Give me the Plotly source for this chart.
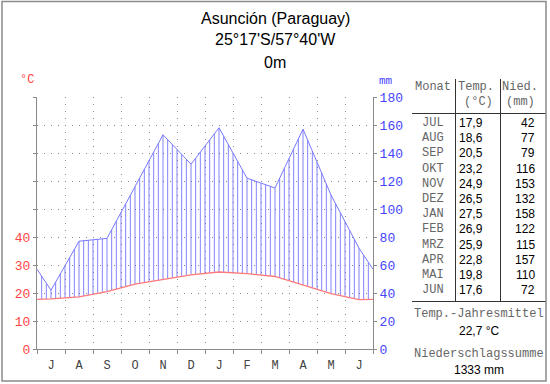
import numpy as np
import plotly.graph_objects as go

# ---- data ----
month_initials = ["J", "A", "S", "O", "N", "D", "J", "F", "M", "A", "M", "J"]
month_names = ["JUL", "AUG", "SEP", "OKT", "NOV", "DEZ", "JAN", "FEB", "MRZ", "APR", "MAI", "JUN"]
temp_c = [17.9, 18.6, 20.5, 23.2, 24.9, 26.5, 27.5, 26.9, 25.9, 22.8, 19.8, 17.6]
temp_labels = ["17,9", "18,6", "20,5", "23,2", "24,9", "26,5", "27,5", "26,9", "25,9", "22,8", "19,8", "17,6"]
precip_mm = [42, 77, 79, 116, 153, 132, 158, 122, 115, 157, 110, 72]
title_lines = ["Asunción (Paraguay)", "25°17'S/57°40'W", "0m"]
temp_ticks = [0, 10, 20, 30, 40, 50, 60, 70, 80, 90]
temp_ticktext = ["0", "10", "20", "30", "40", "", "", "", "", ""]
mm_ticks = [0, 20, 40, 60, 80, 100, 120, 140, 160, 180]
mean_temp_text = "22,7 °C"
total_precip_text = "1333 mm"

# ---- geometry ----
W, H = 550, 384
L, R, T, B = 37, 373, 97, 349
MONO = "Liberation Mono, Courier New, monospace"
SANS = "Liberation Sans, Arial, sans-serif"
GRID = "#8a8a8a"
AX = "#8a8a8a"
RED_LINE = "#ff7a7a"
RED_TXT = "#ff4444"
BLUE_LINE = "#7878ff"
BLUE_TXT = "#4444ff"
HATCH = "rgba(90,90,255,0.75)"


def px(x):
    return (x - L) / (R - L)


def py(y):
    return (B - y) / (B - T)


# curve points at month centres, with wrap-around values at the edges
t = np.array(temp_c)
p = np.array(precip_mm, dtype=float)
xs = np.concatenate([[0.0], np.arange(12) + 0.5, [12.0]])
t_edge = (t[0] + t[-1]) / 2
p_edge = (p[0] + p[-1]) / 2
t_curve = np.concatenate([[t_edge], t, [t_edge]])
p_curve = np.concatenate([[p_edge], p, [p_edge]])

# hatching (vertical lines between temperature and precipitation)
hx, hy = [], []
for k in range(1, 72):
    xv = k / 6.0
    top = np.interp(xv, xs, p_curve)
    bot = 2 * np.interp(xv, xs, t_curve)
    if top > bot:
        hx += [xv, xv, None]
        hy += [bot, top, None]

fig = go.Figure()
fig.add_trace(go.Scatter(x=hx, y=hy, mode="lines", line=dict(color=HATCH, width=1),
                         hoverinfo="skip", showlegend=False, yaxis="y"))
fig.add_trace(go.Scatter(x=xs, y=p_curve, mode="lines", line=dict(color=BLUE_LINE, width=1),
                         showlegend=False, yaxis="y"))
fig.add_trace(go.Scatter(x=xs, y=t_curve, mode="lines", line=dict(color=RED_LINE, width=1.3),
                         showlegend=False, yaxis="y2"))

fig.update_layout(
    width=W, height=H,
    margin=dict(l=L, r=W - R, t=T, b=H - B),
    paper_bgcolor="white", plot_bgcolor="white",
    showlegend=False,
    xaxis=dict(
        range=[0, 12], showline=True, linecolor=AX, linewidth=1,
        tickvals=list(np.arange(12) + 0.5), ticktext=month_initials, ticks="",
        ticklabelstandoff=5,
        tickfont=dict(family=MONO, size=12, color="#444"),
        showgrid=False, zeroline=False, fixedrange=True,
        minor=dict(tick0=0, dtick=1, ticks="outside", ticklen=4, tickcolor=AX,
                   showgrid=True, gridcolor=GRID, griddash="1px,6px", gridwidth=1),
    ),
    yaxis=dict(
        range=[0, 180], side="right", tickvals=mm_ticks, showline=True,
        linecolor=AX, ticks="outside", ticklen=3, tickcolor=AX,
        tickfont=dict(family=MONO, size=13, color=BLUE_TXT),
        showgrid=True, gridcolor=GRID, griddash="1px,6px", zeroline=False,
    ),
    yaxis2=dict(
        range=[0, 90], side="left", overlaying="y", tickvals=temp_ticks,
        ticktext=temp_ticktext, showline=True, linecolor=AX, ticks="outside",
        ticklen=3, tickcolor=AX, tickfont=dict(family=MONO, size=13, color=RED_TXT),
        showgrid=False, zeroline=False,
    ),
)

ann = []


def text(x, y, s, size=12, color="#000", family=SANS, xanchor="center"):
    ann.append(dict(x=px(x), y=py(y), xref="paper", yref="paper", text=s,
                    showarrow=False, xanchor=xanchor, yanchor="middle",
                    font=dict(family=family, size=size, color=color)))


for i, s in enumerate(title_lines):
    text(275, 18 + 22 * i, s, size=16)
text(27, 80, "°C", size=12, color=RED_TXT, family=MONO)
text(386, 81, "mm", size=11, color=BLUE_TXT, family=MONO)

# table
GRAYTXT = "#666"
text(433, 87, "Monat", color=GRAYTXT, family=MONO)
text(476, 87, "Temp.", color=GRAYTXT, family=MONO)
text(478, 102, "(°C)", color=GRAYTXT, family=MONO)
text(520, 87, "Nied.", color=GRAYTXT, family=MONO)
text(520, 102, "(mm)", color=GRAYTXT, family=MONO)
for i in range(12):
    y = 123 + 15.2 * i
    text(433, y, month_names[i], color=GRAYTXT, family=MONO)
    text(485, y, temp_labels[i], xanchor="right")
    text(537, y, str(precip_mm[i]), xanchor="right")
text(479, 314, "Temp.-Jahresmittel", color=GRAYTXT, family=MONO)
text(479, 331, mean_temp_text)
text(479, 354, "Niederschlagssumme", color=GRAYTXT, family=MONO)
text(479, 370, total_precip_text)
fig.update_layout(annotations=ann)

shapes = []


def line(x0, y0, x1, y1, color="#333", width=1):
    shapes.append(dict(type="line", xref="paper", yref="paper",
                       x0=px(x0), y0=py(y0), x1=px(x1), y1=py(y1),
                       line=dict(color=color, width=width)))


line(455.5, 79, 455.5, 301)
line(500.5, 79, 500.5, 301)
line(412, 113.5, 546, 113.5)
line(412, 301.5, 546, 301.5)
shapes.append(dict(type="rect", xref="paper", yref="paper",
                   x0=px(2), y0=py(381), x1=px(546), y1=py(1.5),
                   line=dict(color="#8a8a8a", width=1.5)))
fig.update_layout(shapes=shapes)

fig.write_html("out.html", config={"displayModeBar": False},
               post_script="document.body.style.margin='0';")
